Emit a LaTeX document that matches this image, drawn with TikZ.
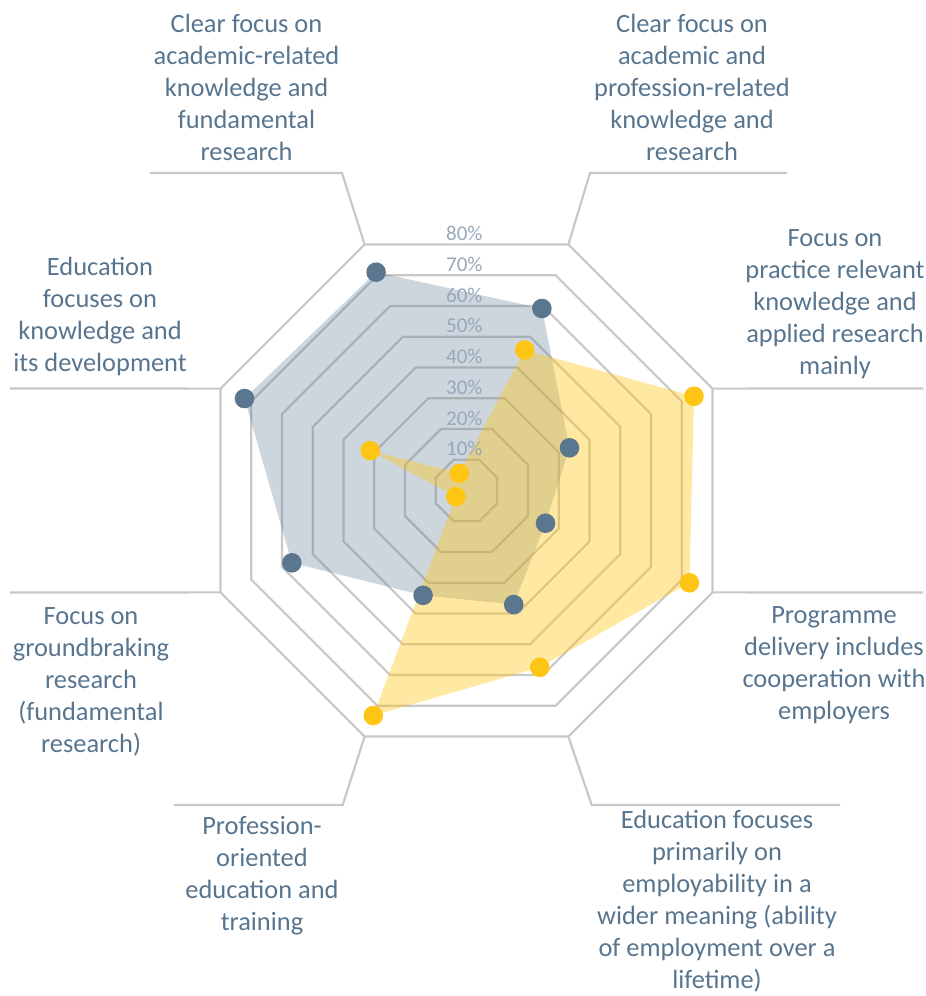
\documentclass[tikz,border=0pt]{standalone}
\usepackage{fontspec}
\setmainfont{Carlito}
\usepackage{tikz}
\usetikzlibrary{positioning}

\definecolor{slate}{RGB}{91,119,144}
\definecolor{gold}{RGB}{255,197,20}
\definecolor{gridgrey}{RGB}{200,200,200}
\definecolor{pctgrey}{RGB}{150,168,186}
\definecolor{textslate}{RGB}{88,117,143}

\tikzset{
    gridline/.style={draw=gridgrey, line width=2.2pt},
    catlabel/.style={text=textslate, align=center, inner sep=0pt, font=\fontsize{26.4}{32}\selectfont},
    pctlabel/.style={text=pctgrey, inner sep=0pt, font=\fontsize{21}{24}\selectfont},
    bluearea/.style={fill=slate, fill opacity=0.3},
    goldarea/.style={fill=gold, fill opacity=0.4},
}

\begin{document}
\begin{tikzpicture}[x=1pt, y=1pt]
    \useasboundingbox (-466.5,-505.5) rectangle (459.5,490.5);
    \def\r{33.28}  % one ring (10%), corner radius
    \def\u{3.328}  % 1%

    % Rings
    \foreach \k in {1,...,8} {
        \pgfmathsetmacro\rr{\k*\r}
        \draw[gridline] (22.5:\rr) \foreach \a in {67.5,112.5,...,337.5} { -- (\a:\rr) } -- cycle;
    }

    % Outer corners and leaders
    \foreach \i/\a in {1/112.5, 2/67.5, 3/22.5, 4/-22.5, 5/-67.5, 6/-112.5, 7/-157.5, 8/157.5}
        \coordinate (o\i) at (\a:{8*\r});
    \coordinate (k1) at (-124.5,317.5);  \coordinate (e1) at (-316.5,317.5);
    \coordinate (k2) at (123.5,317.5);   \coordinate (e2) at (320.5,317.5);
    \coordinate (e3) at (456.5,102);
    \coordinate (e4) at (456.5,-102);
    \coordinate (k5) at (125.2,-314.5);  \coordinate (e5) at (373.5,-314.5);
    \coordinate (k6) at (-123.8,-314.5); \coordinate (e6) at (-292.5,-314.5);
    \coordinate (e7) at (-456.5,-102);
    \coordinate (e8) at (-456.5,102);
    \draw[gridline] (o1) -- (k1) -- (e1);
    \draw[gridline] (o2) -- (k2) -- (e2);
    \draw[gridline] (o3) -- (e3);
    \draw[gridline] (o4) -- (e4);
    \draw[gridline] (o5) -- (k5) -- (e5);
    \draw[gridline] (o6) -- (k6) -- (e6);
    \draw[gridline] (o7) -- (e7);
    \draw[gridline] (o8) -- (e8);

    % Series areas
    \fill[bluearea] (112.5:{71*\u}) -- (67.5:{59.2*\u}) -- (22.5:{33.5*\u}) -- (-22.5:{25.7*\u})
        -- (-67.5:{37.1*\u}) -- (-112.5:{34.1*\u}) -- (-157.5:{56.8*\u}) -- (157.5:{72.2*\u}) -- cycle;
    \fill[goldarea] (112.5:{5.6*\u}) -- (67.5:{45.7*\u}) -- (22.5:{74*\u}) -- (-22.5:{72.5*\u})
        -- (-67.5:{57.5*\u}) -- (-112.5:{73.2*\u}) -- (-150:{3.7*\u}) -- (157.5:{31.3*\u}) -- cycle;

    % Markers
    \foreach \a/\v in {112.5/71, 67.5/59.2, 22.5/33.5, -22.5/25.7, -67.5/37.1, -112.5/34.1, -157.5/56.8, 157.5/72.2}
        \fill[slate] (\a:{\v*\u}) circle (9.8);
    \foreach \a/\v in {112.5/5.6, 67.5/45.7, 22.5/74, -22.5/72.5, -67.5/57.5, -112.5/73.2, -150/3.7, 157.5/31.3}
        \fill[gold] (\a:{\v*\u}) circle (9.8);

    % Percent scale
    \foreach \k in {1,...,8}
        \node[pctlabel] (pct\k) at (-2.2,{\k*30.75+11}) {\k0\%};

    % Category labels
    \node[catlabel] (cat1) at (-220,403) {Clear focus on\\academic-related\\knowledge and\\fundamental\\research};
    \node[catlabel] (cat2) at (225.5,403) {Clear focus on\\academic and\\profession-related\\knowledge and\\research};
    \node[catlabel] (cat3) at (368.5,186) {Focus on\\practice relevant\\knowledge and\\applied research\\mainly};
    \node[catlabel] (cat4) at (367.5,-174.5) {Programme\\delivery includes\\cooperation with\\employers};
    \node[catlabel] (cat5) at (250.5,-411) {Education focuses\\primarily on\\employability in a\\wider meaning (ability\\of employment over a\\lifetime)};
    \node[catlabel] (cat6) at (-204.5,-385) {Profession-\\oriented\\education and\\training};
    \node[catlabel] (cat7) at (-375.5,-191) {Focus on\\groundbraking\\research\\(fundamental\\research)};
    \node[catlabel] (cat8) at (-366.5,174) {Education\\focuses on\\knowledge and\\its development};
\end{tikzpicture}
\end{document}
